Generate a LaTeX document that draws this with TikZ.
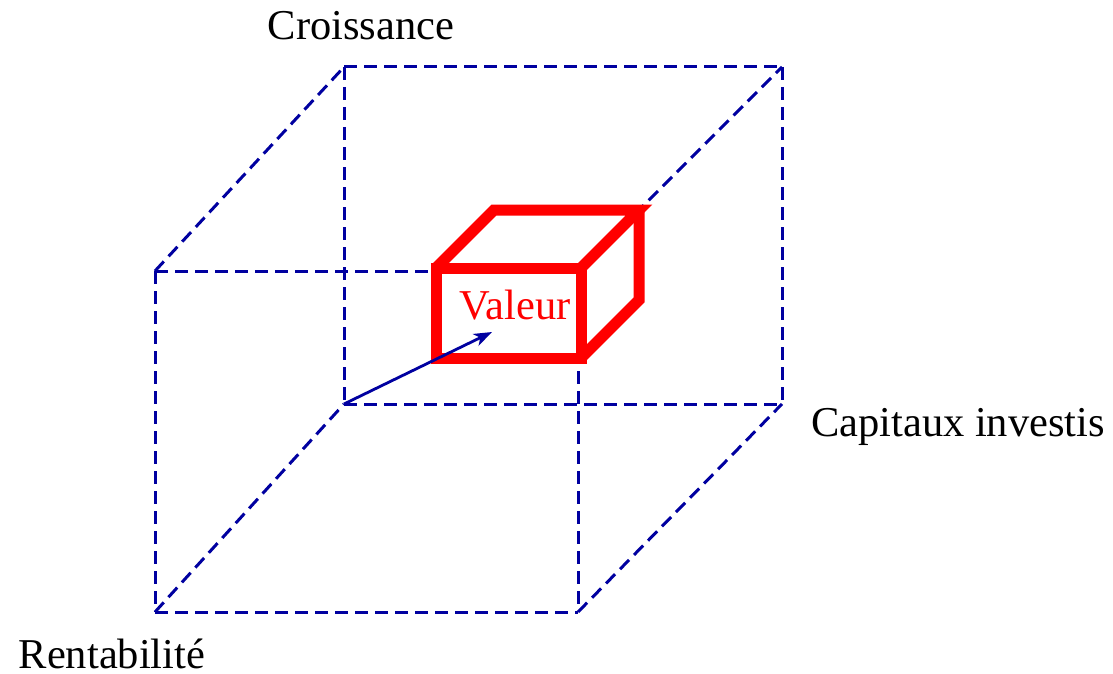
\documentclass[tikz,border=0pt]{standalone}
\usepackage{fontspec}
\setmainfont{Liberation Serif}
\usetikzlibrary{arrows.meta}
\definecolor{cubeblue}{RGB}{0,0,160}
\definecolor{boxred}{RGB}{255,0,0}
\tikzset{
  hidden/.style={draw=cubeblue, line width=3pt, dash pattern=on 13pt off 7pt},
  redbox/.style={draw=boxred, line width=11pt, line join=miter},
  axis label/.style={font=\fontsize{42.5}{48}\selectfont, inner sep=0pt},
  vec/.style={draw=cubeblue, line width=2.8pt, -{Stealth[length=18pt,width=13pt,inset=5pt]}}
}
\begin{document}
\begin{tikzpicture}[x=1pt,y=-1pt]
\useasboundingbox (0,0) rectangle (1113,674);
% cube corners
\coordinate (FTL) at (155,271);
\coordinate (FTR) at (578,271);
\coordinate (FBL) at (155,612);
\coordinate (FBR) at (578,612);
\coordinate (BTL) at (344,67);
\coordinate (BTR) at (782,67);
\coordinate (BBL) at (344,404);
\coordinate (BBR) at (782,404);
% dashed cube
\draw[hidden] (FTL) -- (FTR);
\draw[hidden] (FBL) -- (FBR);
\draw[hidden] (FTL) -- (FBL);
\draw[hidden] (FTR) -- (FBR);
\draw[hidden] (BTL) -- (BTR);
\draw[hidden] (BBL) -- (BBR);
\draw[hidden] (BTL) -- (BBL);
\draw[hidden] (BTR) -- (BBR);
\draw[hidden] (FTL) -- (BTL);
\draw[hidden] (FTR) -- (BTR);
\draw[hidden] (FBL) -- (BBL);
\draw[hidden] (FBR) -- (BBR);
% red box
\coordinate (rA) at (436,268);
\coordinate (rB) at (581,268);
\coordinate (rC) at (581,358);
\coordinate (rD) at (436,358);
\coordinate (rE) at (494,210);
\coordinate (rF) at (639,210);
\coordinate (rG) at (639,300);
\draw[redbox] (rA) -- (rB) -- (rC) -- (rD) -- cycle;
\draw[redbox] (rA) -- (rE) -- (rF) -- (rB);
\draw[redbox] (rF) -- (rG) -- (rC);
% arrow
\coordinate (tip) at (492,332);
\draw[vec] (BBL) -- (tip);
% labels
\node[axis label, text=boxred] (val) at (515,305) {Valeur};
\node[axis label] (cro) at (361,26) {Croissance};
\node[axis label] (cap) at (958,427) {Capitaux investis};
\node[axis label] (ren) at (112,654) {Rentabilité};
\end{tikzpicture}
\end{document}
